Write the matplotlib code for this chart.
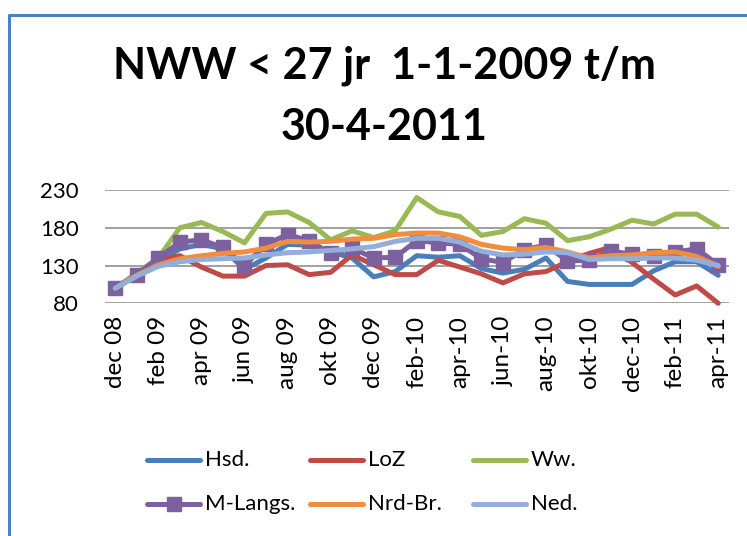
import matplotlib
matplotlib.use("Agg")
import matplotlib.pyplot as plt
from matplotlib.lines import Line2D

# ---------------- data ----------------
months = ["dec 08", "jan 09", "feb 09", "mrt 09", "apr 09", "mei 09", "jun 09",
          "jul 09", "aug 09", "sep 09", "okt 09", "nov 09", "dec 09",
          "jan-10", "feb-10", "mrt-10", "apr-10", "mei-10", "jun-10", "jul-10",
          "aug-10", "sep-10", "okt-10", "nov-10", "dec-10",
          "jan-11", "feb-11", "mrt-11", "apr-11"]

hsd = [100, 118, 136, 152, 158, 152, 125, 140, 158, 157, 148, 140, 115, 122, 143,
       141, 143, 126, 120, 125, 140, 109, 105, 105, 105, 123, 135, 135, 117]
loz = [100, 118, 138, 143, 128, 116, 116, 130, 131, 118, 121, 144, 131, 118, 118,
       137, 128, 119, 107, 119, 122, 135, 146, 154, 134, 112, 91, 103, 80]
ww = [100, 120, 140, 180, 187, 175, 160, 199, 201, 187, 164, 176, 167, 176, 220,
      201, 195, 170, 175, 192, 186, 163, 168, 178, 190, 185, 198, 198, 181]
mlangs = [100, 118, 140, 161, 164, 154, 130, 158, 171, 163, 146, 153, 140, 141, 163,
          160, 158, 139, 134, 151, 157, 136, 137, 149, 145, 143, 148, 152, 131]
nrdbr = [100, 117, 131, 139, 143, 146, 148, 153, 162, 161, 162, 165, 166, 171, 173,
         173, 168, 158, 153, 151, 154, 148, 140, 143, 144, 147, 148, 142, 129]
ned = [100, 116, 129, 135, 138, 139, 140, 144, 147, 148, 150, 152, 155, 162, 166,
       166, 161, 149, 144, 145, 148, 147, 138, 139, 139, 140, 140, 137, 130]

series_names = ["Hsd.", "LoZ", "Ww.", "M-Langs.", "Nrd-Br.", "Ned."]
series_values = [hsd, loz, ww, mlangs, nrdbr, ned]
colors = ["#4A7EBB", "#BE4B48", "#98B954", "#7D60A0", "#F38D3E", "#93AEDA"]
y_ticks = [80, 130, 180, 230]

title1 = "NWW < 27 jr  1-1-2009 t/m"
title2 = "30-4-2011"

# ---------------- figure ----------------
W, H = 747, 536
fig = plt.figure(figsize=(W / 100, H / 100), dpi=100)
fig.patch.set_facecolor("white")
FONT = ["Lato", "DejaVu Sans"]

def fx(px):
    return px / W

def fy(py):
    return 1 - py / H

# chart-area border (partially visible)
fig.add_artist(Line2D([fx(8.5), fx(8.5), fx(747)], [fy(536), fy(15), fy(15)],
                      transform=fig.transFigure, color="#4F81BD", lw=2.2))

ax = fig.add_axes([fx(104.5), fy(303.3), fx(729) - fx(104.5), fy(190) - fy(303.3)])
x = list(range(len(months)))
for name, vals, c in zip(series_names, series_values, colors):
    if name == "M-Langs.":
        ax.plot(x, vals, color=c, lw=3.6, marker="s", markersize=10.5,
                markerfacecolor=c, markeredgecolor=c, solid_capstyle="round",
                solid_joinstyle="round", clip_on=False, zorder=3)
    else:
        ax.plot(x, vals, color=c, lw=3.6, solid_capstyle="round",
                solid_joinstyle="round", clip_on=False, zorder=3)

ax.set_xlim(-0.5, len(months) - 0.5)
ax.set_ylim(80, 230)
ax.set_yticks(y_ticks)
ax.set_yticklabels([str(v) for v in y_ticks], fontfamily=FONT, fontsize=16)
ax.set_xticks(x[::2])
ax.set_xticklabels(months[::2], rotation=90, fontfamily=FONT, fontsize=17.5)
ax.tick_params(axis="y", length=0, pad=18.5)
ax.tick_params(axis="x", length=0, pad=9)
ax.yaxis.grid(True, color="#868686", lw=1.1, zorder=0)
ax.set_axisbelow(True)
for s in ax.spines.values():
    s.set_visible(False)

# title
fig.text(fx(384.5), fy(79), title1, ha="center", va="baseline",
         fontfamily=FONT, fontweight="bold", fontsize=31)
fig.text(fx(384.5), fy(140), title2, ha="center", va="baseline",
         fontfamily=FONT, fontweight="bold", fontsize=31)

# legend (manual, Excel style)
col_x = [147, 310, 473]
row_y = [460, 504]
for k, (name, c) in enumerate(zip(series_names, colors)):
    r, cidx = divmod(k, 3)
    x0 = col_x[cidx]
    yy = row_y[r]
    fig.add_artist(Line2D([fx(x0), fx(x0 + 53)], [fy(yy), fy(yy)],
                          transform=fig.transFigure, color=c, lw=3.6,
                          solid_capstyle="round"))
    if name == "M-Langs.":
        fig.add_artist(Line2D([fx(x0 + 26.5)], [fy(yy)], transform=fig.transFigure,
                              color=c, marker="s", markersize=10.5, lw=0))
    fig.text(fx(x0 + 58), fy(yy), name, ha="left", va="center",
             fontfamily=FONT, fontsize=16)

fig.savefig("out.png", dpi=100, facecolor="white")
